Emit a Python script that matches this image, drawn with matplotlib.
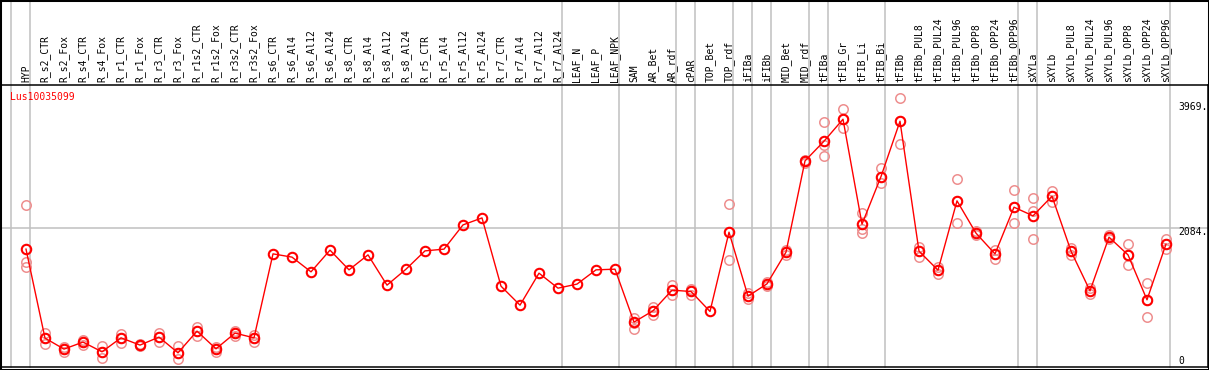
import numpy as np
import matplotlib
matplotlib.use("Agg")
import matplotlib.pyplot as plt
from matplotlib import transforms
from matplotlib.patches import Rectangle

title = "Lus10035099"
categories = ["HYP", "R_s2_CTR", "R_s2_Fox", "R_s4_CTR", "R_s4_Fox", "R_r1_CTR", "R_r1_Fox",
              "R_r3_CTR", "R_r3_Fox", "R_r1s2_CTR", "R_r1s2_Fox", "R_r3s2_CTR", "R_r3s2_Fox",
              "R_s6_CTR", "R_s6_Al4", "R_s6_Al12", "R_s6_Al24", "R_s8_CTR", "R_s8_Al4",
              "R_s8_Al12", "R_s8_Al24", "R_r5_CTR", "R_r5_Al4", "R_r5_Al12", "R_r5_Al24",
              "R_r7_CTR", "R_r7_Al4", "R_r7_Al12", "R_r7_Al24", "LEAF_N", "LEAF_P", "LEAF_NPK",
              "SAM", "AR_Bet", "AR_rdf", "cPAR", "TOP_Bet", "TOP_rdf", "iFIBa", "iFIBb",
              "MID_Bet", "MID_rdf", "tFIBa", "tFIB_Gr", "tFIB_Li", "tFIB_Bi", "tFIBb",
              "tFIBb_PUL8", "tFIBb_PUL24", "tFIBb_PUL96", "tFIBb_OPP8", "tFIBb_OPP24",
              "tFIBb_OPP96", "sXYLa", "sXYLb", "sXYLb_PUL8", "sXYLb_PUL24", "sXYLb_PUL96",
              "sXYLb_OPP8", "sXYLb_OPP24", "sXYLb_OPP96"]

means = [1770, 434, 269, 374, 228, 438, 329, 449, 213, 539, 273, 509, 438,
         1699, 1650, 1429, 1755, 1459, 1684, 1229, 1469, 1744, 1770, 2134, 2239,
         1214, 929, 1409, 1184, 1245, 1459, 1469,
         674, 844, 1154, 1134, 834, 2025, 1064, 1249, 1725, 3095, 3391, 3721, 2145, 2860, 3691,
         1740, 1454, 2495, 2010, 1699, 2400, 2270, 2565, 1740, 1144, 1950, 1684, 1009, 1845]

N = None
rep_a = [2430, 509, 300, 408, 318, 503, 345, 509, 318, 608, 303, 548, 483,
         N, N, N, N, N, N, N, N, N, N, N, N, N, N, N, N, N, N, N,
         734, 899, 1224, 1174, N, 2445, 1104, 1284, 1759, 3110, 3676, 3871, 2310, 2985, 4036,
         1809, 1509, 2820, 2040, 1759, 2655, 2535, 2645, 1785, 1179, 1975, 1849, 1259, 1924]
rep_b = [1584, 434, 269, 378, 228, 438, 329, 453, 213, 543, 273, 513, 438,
         N, N, N, N, N, N, N, N, N, N, N, N, N, N, N, N, N, N, N,
         664, 844, 1154, 1134, N, 2025, 1064, 1249, 1725, 3095, 3335, 3725, 2074, 2860, 3691,
         1740, 1454, 2495, 2010, 1699, 2400, 2345, 2565, 1740, 1144, 1950, 1684, 1009, 1845]
rep_c = [1500, 344, 228, 323, 134, 353, 315, 374, 119, 468, 218, 468, 374,
         N, N, N, N, N, N, N, N, N, N, N, N, N, N, N, N, N, N, N,
         569, 784, 1079, 1084, N, 1605, 1024, 1209, 1684, 3060, 3166, 3586, 2010, 2760, 3346,
         1659, 1399, 2160, 1980, 1629, 2160, 1920, 2480, 1684, 1094, 1925, 1529, 749, 1770]

separators_after = [-1, 0, 28, 31, 34, 35, 37, 38, 39, 41, 42, 45, 52, 53, 60]
y_ticks = [0, 2084, 3969]
y_tick_labels = ["0", "2084.", "3969."]
grid_level = 2084

W, H, DPI = 1209, 370, 100
fig = plt.figure(figsize=(W / DPI, H / DPI), dpi=DPI)
fig.patch.set_facecolor("white")

ax_left, ax_right, ax_bottom, ax_top = 2, 1208, 367, 85
ax = fig.add_axes([ax_left / W, (H - ax_bottom) / H, (ax_right - ax_left) / W,
                   (ax_bottom - ax_top) / H])
ax.set_xlim((ax_left - 26) / 19, (ax_right - 26) / 19)
ax.set_ylim(0, 4235)
ax.set_xticks([])
ax.set_yticks([])
for s in ax.spines.values():
    s.set_color("black")
    s.set_linewidth(1.1)
ax.spines["left"].set_visible(False)

x = np.arange(len(categories))
grey = "#C0C0C0"
extra = 1 + (ax_top) / (ax_bottom - ax_top)
for i in separators_after:
    pos = i + 0.23 if i >= 0 else -0.8
    ax.axvline(pos, ymin=0, ymax=extra, color=grey, lw=1.1, clip_on=False, zorder=1)
ax.axhline(grid_level, color=grey, lw=1.1, zorder=1)

for reps in (rep_a, rep_b, rep_c):
    xs = [xi for xi, v in zip(x, reps) if v is not None]
    ys = [v for v in reps if v is not None]
    ax.plot(xs, ys, linestyle="none", marker="o", markersize=6.8, markerfacecolor="none",
            markeredgecolor="#EE8E8E", markeredgewidth=1.1, zorder=2)

ax.plot(x, means, color="#FF0000", lw=1.0, marker="o", markersize=6.8,
        markerfacecolor="none", markeredgecolor="#FF0000", markeredgewidth=1.5, zorder=3)

font = dict(family="DejaVu Sans Mono", fontsize=7)
lab_tr = transforms.blended_transform_factory(ax.transData, ax.transAxes)
lab_tr = transforms.offset_copy(lab_tr, fig=fig, y=3, units="dots")
for xi, name in zip(x, categories):
    ax.text(xi, 1.0, name, rotation=90, ha="center", va="bottom", transform=lab_tr,
            clip_on=False, color="black", **font)

tick_x = (1178 - 26) / 19
for v, lab in zip(y_ticks, y_tick_labels):
    off = -4 if v > 0 else 5.5
    tr = transforms.offset_copy(ax.transData, fig=fig, y=off, units="dots")
    ax.text(tick_x, v, lab, ha="left", va="center", transform=tr, clip_on=False,
            color="black", **font)

fig.text(10 / W, (H - 97) / H, title, ha="left", va="center", color="#FF0000", **font)

fig.patches.append(Rectangle((0, 0), 1, 1, transform=fig.transFigure, fill=False,
                             edgecolor="black", lw=2.2, zorder=10))

fig.savefig("out.png", dpi=DPI, facecolor="white")
